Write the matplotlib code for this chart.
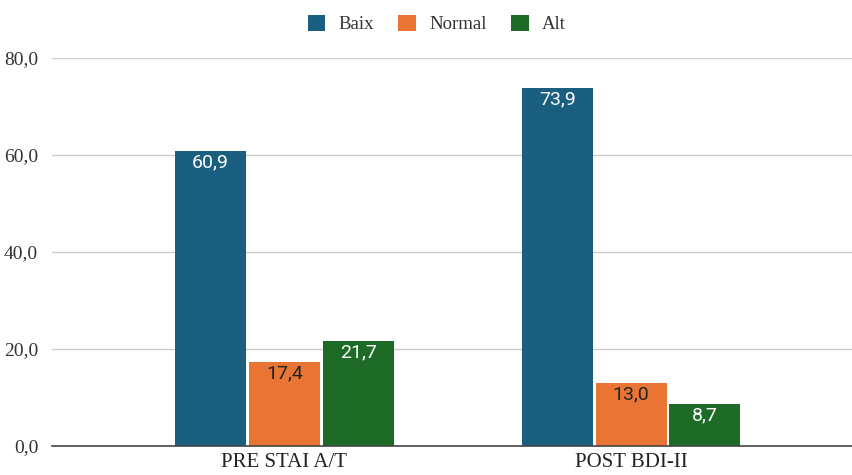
import matplotlib.pyplot as plt
import numpy as np

categories = ["PRE STAI A/T", "POST BDI-II"]
series = ["Baix", "Normal", "Alt"]
baix = [60.9, 73.9]
normal = [17.4, 13.0]
alt = [21.7, 8.7]

colors = ["#1a5e80", "#e87533", "#1e6b27"]
label_colors = ["white", "#222222", "white"]

fig = plt.figure(figsize=(8.53, 4.75), dpi=100)
ax = fig.add_axes([0.061, 0.061, 0.939, 0.817])

x = np.arange(len(categories))
width = 0.205
step = 0.213

for i, (name, vals) in enumerate(zip(series, [baix, normal, alt])):
    pos = x + (i - 1) * step
    ax.bar(pos, vals, width, color=colors[i], label=name, zorder=3)
    for p, v in zip(pos, vals):
        ax.text(p, v - 2.4, f"{v:.1f}".replace(".", ","), ha="center", va="center",
                color=label_colors[i], fontsize=14, family="Roboto", zorder=4)

ax.set_xlim(-0.67, 1.64)
ax.set_ylim(0, 80)
ax.set_yticks([0, 20, 40, 60, 80])
ax.set_yticklabels([f"{t:.1f}".replace(".", ",") for t in [0, 20, 40, 60, 80]],
                   family="Liberation Serif", fontsize=14, color="#333333")
ax.set_xticks(x)
ax.set_xticklabels(categories, family="Liberation Serif", fontsize=15, color="#222222")
ax.tick_params(axis="both", length=0, pad=10)
ax.tick_params(axis="x", pad=5)
ax.grid(axis="y", color="#cccccc", linewidth=1, zorder=0)
for s in ["top", "right", "left"]:
    ax.spines[s].set_visible(False)
ax.spines["bottom"].set_color("#444444")
ax.spines["bottom"].set_linewidth(1.2)
ax.spines["bottom"].set_zorder(5)

fig.legend(loc="upper center", bbox_to_anchor=(0.512, 1.005), ncol=3, frameon=False,
           prop={"family": "Liberation Serif", "size": 13.5}, handlelength=0.95,
           handleheight=0.95, columnspacing=1.3, handletextpad=0.7)
for t in fig.legends[0].get_texts():
    t.set_color("#333333")

fig.savefig("out.png", dpi=100)
